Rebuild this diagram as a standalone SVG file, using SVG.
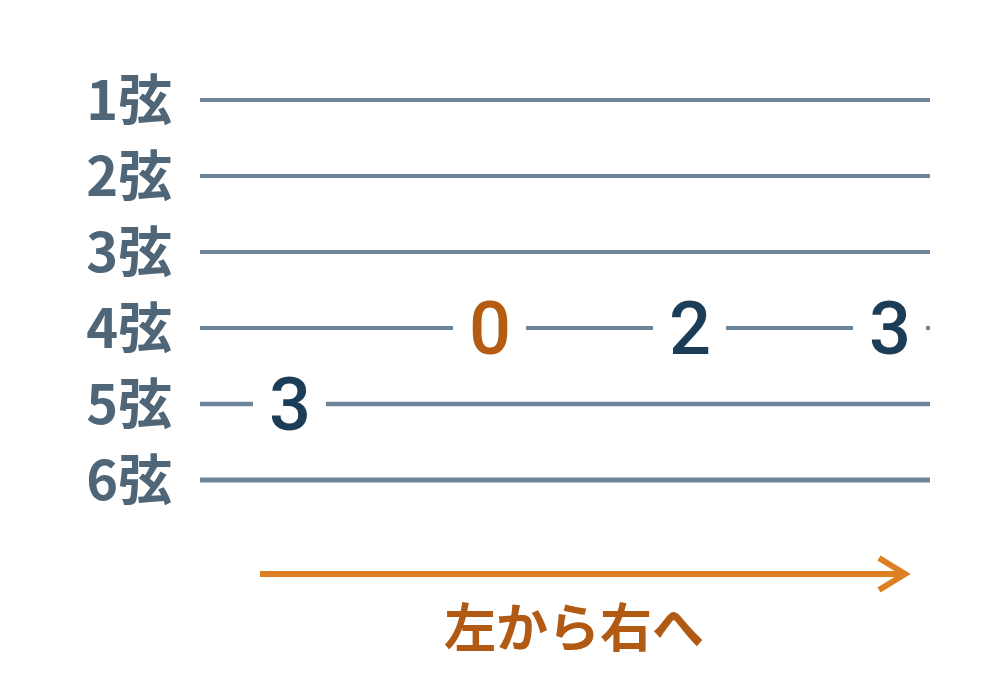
<svg xmlns="http://www.w3.org/2000/svg" width="1000" height="690" viewBox="0 0 1000 690">
<style>
.str{stroke:#6f869a;stroke-width:4;fill:none}
.lbl{font-family:"Noto Sans CJK JP","Noto Sans",sans-serif;font-weight:700;font-size:54px;fill:#4f6678;text-anchor:end}
.num{font-family:Roboto,"Noto Sans",sans-serif;font-weight:500;font-size:74px;fill:#1c3d58;text-anchor:middle}
.open{fill:#b35c12}
.mask{fill:#ffffff}
.cap{font-family:"Noto Sans CJK JP",sans-serif;font-weight:600;font-size:52px;fill:#b05a14;text-anchor:middle}
</style>
<rect width="1000" height="690" fill="#ffffff"/>
<g id="labels">
<text class="lbl" x="172" y="120">1弦</text>
<text class="lbl" x="172" y="196">2弦</text>
<text class="lbl" x="172" y="272">3弦</text>
<text class="lbl" x="172" y="348">4弦</text>
<text class="lbl" x="172" y="424">5弦</text>
<text class="lbl" x="172" y="500">6弦</text>
</g>
<g id="connectors">
<line class="str" x1="200" y1="100" x2="930" y2="100"/>
<line class="str" x1="200" y1="176" x2="930" y2="176"/>
<line class="str" x1="200" y1="252" x2="930" y2="252"/>
<line class="str" x1="200" y1="328" x2="930" y2="328"/>
<line class="str" x1="200" y1="404" x2="930" y2="404" style="stroke-width:4.5"/>
<line class="str" x1="200" y1="480" x2="930" y2="480" style="stroke-width:5"/>
<line x1="260" y1="574" x2="904" y2="574" stroke="#dd7f22" stroke-width="6"/>
<polyline points="879,558 905,574 879,590" fill="none" stroke="#dd7f22" stroke-width="6" stroke-linejoin="miter"/>
</g>
<g id="note-5-3">
<rect class="mask" x="253" y="376" width="73" height="56"/>
<text class="num" x="290" y="429.5">3</text>
</g>
<g id="note-4-0">
<rect class="mask" x="453" y="300" width="73" height="56"/>
<text class="num open" x="490" y="353.5">0</text>
</g>
<g id="note-4-2">
<rect class="mask" x="653" y="300" width="73" height="56"/>
<text class="num" x="690" y="353.5">2</text>
</g>
<g id="note-4-3">
<rect class="mask" x="853" y="300" width="73" height="56"/>
<text class="num" x="890" y="353.5">3</text>
</g>
<g id="caption">
<text class="cap" x="574" y="647">左から右へ</text>
</g>
</svg>
